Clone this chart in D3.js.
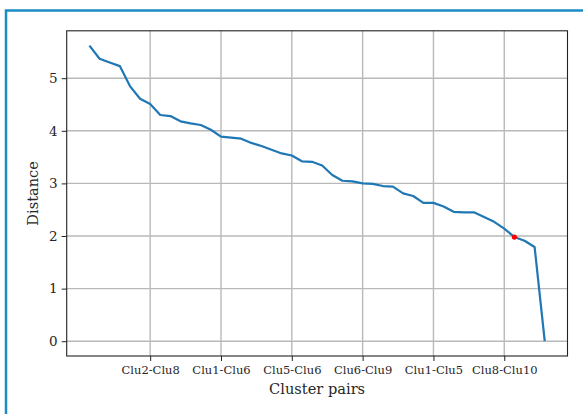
<!DOCTYPE html>
<html>
<head>
<meta charset="utf-8">
<script src="https://cdn.jsdelivr.net/npm/d3@7/dist/d3.min.js"></script>
<style>
  html, body { margin: 0; padding: 0; background: #fff; }
  svg { display: block; }
  text { font-family: "DejaVu Serif", serif; fill: #262626; }
</style>
</head>
<body>
<svg id="chart" width="583" height="414"></svg>
<script>
// Pairwise cluster distances, sorted in descending order (last entry closes at 0)
const distances = [
  5.62, 5.37, 5.30, 5.23, 4.85, 4.61, 4.51, 4.30, 4.28, 4.18,
  4.14, 4.11, 4.02, 3.89, 3.87, 3.85, 3.77, 3.71, 3.64, 3.57,
  3.53, 3.42, 3.41, 3.34, 3.16, 3.05, 3.04, 3.00, 2.99, 2.95,
  2.94, 2.81, 2.76, 2.63, 2.63, 2.56, 2.46, 2.45, 2.45, 2.36,
  2.27, 2.14, 1.98, 1.91, 1.79, 0.00
];
// Labelled positions along the x axis
const tickIndex = [6, 13, 20, 27, 34, 41];
const tickLabels = ["Clu2-Clu8", "Clu1-Clu6", "Clu5-Clu6", "Clu6-Clu9", "Clu1-Clu5", "Clu8-Clu10"];
const yTicks = [0, 1, 2, 3, 4, 5];
// Highlighted pair (the cut point)
const markIndex = [42];

const svg = d3.select("#chart");

// Outer frame
svg.append("rect")
  .attr("x", 6).attr("y", 10.5)
  .attr("width", 600).attr("height", 500)
  .attr("fill", "none")
  .attr("stroke", "#1b8cc6")
  .attr("stroke-width", 2.5);

const plot = { left: 66.7, right: 567.5, top: 30.8, bottom: 356 };

const n = distances.length - 1;
const xPad = n * 0.05;
const x = d3.scaleLinear()
  .domain([-xPad, n + xPad])
  .range([plot.left, plot.right]);

const yMax = d3.max(distances), yMin = d3.min(distances);
const yPad = (yMax - yMin) * 0.05;
const y = d3.scaleLinear()
  .domain([yMin - yPad, yMax + yPad])
  .range([plot.bottom, plot.top]);

const g = svg.append("g");

// Grid
g.append("g").selectAll("line").data(tickIndex).join("line")
  .attr("x1", d => x(d)).attr("x2", d => x(d))
  .attr("y1", plot.top).attr("y2", plot.bottom)
  .attr("stroke", "#b9b9b9").attr("stroke-width", 1.4);
g.append("g").selectAll("line").data(yTicks).join("line")
  .attr("x1", plot.left).attr("x2", plot.right)
  .attr("y1", d => y(d)).attr("y2", d => y(d))
  .attr("stroke", "#b9b9b9").attr("stroke-width", 1.4);

// Axes
const xAxis = d3.axisBottom(x)
  .tickValues(tickIndex)
  .tickFormat((d, i) => tickLabels[i])
  .tickSize(5).tickPadding(5);
const yAxis = d3.axisLeft(y)
  .tickValues(yTicks)
  .tickFormat(d3.format("d"))
  .tickSize(5).tickPadding(4);

const gx = g.append("g")
  .attr("transform", `translate(0,${plot.bottom})`)
  .call(xAxis);
gx.select(".domain").remove();
gx.selectAll("line").attr("stroke", "#222").attr("stroke-width", 1);
gx.selectAll("text").attr("font-size", 11.5).attr("fill", "#262626")
  .attr("font-family", "DejaVu Serif");

const gy = g.append("g")
  .attr("transform", `translate(${plot.left},0)`)
  .call(yAxis);
gy.select(".domain").remove();
gy.selectAll("line").attr("stroke", "#222").attr("stroke-width", 1);
gy.selectAll("text").attr("font-size", 13.5).attr("fill", "#262626")
  .attr("font-family", "DejaVu Serif");

// Line
const line = d3.line()
  .x((d, i) => x(i))
  .y(d => y(d));
g.append("path")
  .datum(distances)
  .attr("d", line)
  .attr("fill", "none")
  .attr("stroke", "#1f77b4")
  .attr("stroke-width", 2.2)
  .attr("stroke-linejoin", "round");

// Highlight point
g.selectAll("circle.mark").data(markIndex).join("circle")
  .attr("class", "mark")
  .attr("cx", d => x(d)).attr("cy", d => y(distances[d]))
  .attr("r", 2.6)
  .attr("fill", "#ff0000");

// Frame of the plotting area
g.append("rect")
  .attr("x", plot.left).attr("y", plot.top)
  .attr("width", plot.right - plot.left).attr("height", plot.bottom - plot.top)
  .attr("fill", "none").attr("stroke", "#222").attr("stroke-width", 1.1);

// Axis titles
svg.append("text")
  .attr("x", (plot.left + plot.right) / 2).attr("y", 394)
  .attr("text-anchor", "middle")
  .attr("font-size", 14.6)
  .text("Cluster pairs");
svg.append("text")
  .attr("transform", `translate(38,${(plot.top + plot.bottom) / 2}) rotate(-90)`)
  .attr("text-anchor", "middle")
  .attr("font-size", 14.6)
  .text("Distance");
</script>
</body>
</html>
